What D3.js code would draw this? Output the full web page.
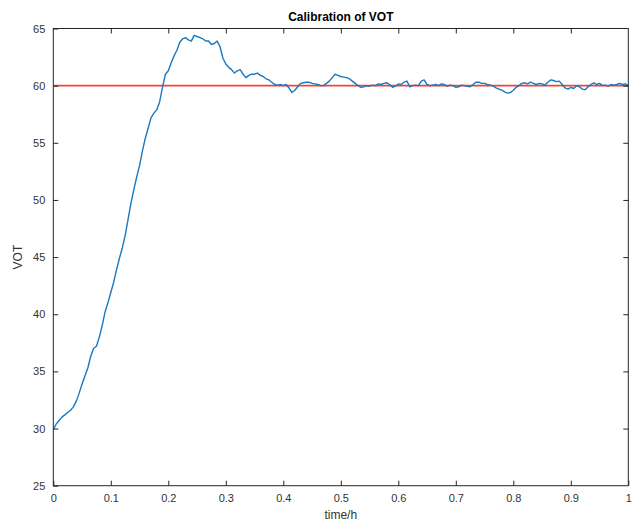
<!DOCTYPE html>
<html>
<head>
<meta charset="utf-8">
<script src="https://cdn.jsdelivr.net/npm/d3@7/dist/d3.min.js"></script>
<style>
  html, body { margin: 0; padding: 0; background: #fff; }
  svg { display: block; }
  text { font-family: "Liberation Sans", Arial, Helvetica, sans-serif; }
</style>
</head>
<body>
<svg id="chart" width="634" height="525"></svg>
<script>
// Sample times (hours)
const time = [
  0.000, 0.005, 0.010, 0.015, 0.020, 0.025, 0.030, 0.035, 0.040, 0.045,
  0.050, 0.055, 0.060, 0.065, 0.070, 0.075, 0.080, 0.085, 0.090, 0.095,
  0.100, 0.105, 0.110, 0.115, 0.120, 0.125, 0.130, 0.135, 0.140, 0.145,
  0.150, 0.155, 0.160, 0.165, 0.170, 0.175, 0.180, 0.185, 0.190, 0.195,
  0.200, 0.205, 0.210, 0.215, 0.220, 0.225, 0.230, 0.235, 0.240, 0.245,
  0.250, 0.255, 0.260, 0.265, 0.270, 0.275, 0.280, 0.285, 0.290, 0.295,
  0.300, 0.305, 0.310, 0.315, 0.320, 0.325, 0.330, 0.335, 0.340, 0.345,
  0.350, 0.355, 0.360, 0.365, 0.370, 0.375, 0.380, 0.385, 0.390, 0.395,
  0.400, 0.405, 0.410, 0.415, 0.420, 0.425, 0.430, 0.435, 0.440, 0.445,
  0.450, 0.455, 0.460, 0.465, 0.470, 0.475, 0.480, 0.485, 0.490, 0.495,
  0.500, 0.505, 0.510, 0.515, 0.520, 0.525, 0.530, 0.535, 0.540, 0.545,
  0.550, 0.555, 0.560, 0.565, 0.570, 0.575, 0.580, 0.585, 0.590, 0.595,
  0.600, 0.605, 0.610, 0.615, 0.620, 0.625, 0.630, 0.635, 0.640, 0.645,
  0.650, 0.655, 0.660, 0.665, 0.670, 0.675, 0.680, 0.685, 0.690, 0.695,
  0.700, 0.705, 0.710, 0.715, 0.720, 0.725, 0.730, 0.735, 0.740, 0.745,
  0.750, 0.755, 0.760, 0.765, 0.770, 0.775, 0.780, 0.785, 0.790, 0.795,
  0.800, 0.805, 0.810, 0.815, 0.820, 0.825, 0.830, 0.835, 0.840, 0.845,
  0.850, 0.855, 0.860, 0.865, 0.870, 0.875, 0.880, 0.885, 0.890, 0.895,
  0.900, 0.905, 0.910, 0.915, 0.920, 0.925, 0.930, 0.935, 0.940, 0.945,
  0.950, 0.955, 0.960, 0.965, 0.970, 0.975, 0.980, 0.985, 0.990, 0.995,
  1.000
];

// Measured VOT at each sample time
const vot = [
  29.9, 30.4, 30.7, 31.0, 31.2, 31.4, 31.6, 31.9, 32.4, 33.1,
  33.9, 34.6, 35.3, 36.3, 37.0, 37.2, 38.0, 39.0, 40.2, 41.0,
  41.9, 42.8, 43.9, 44.9, 45.8, 46.9, 48.3, 49.7, 50.9, 52.0,
  53.0, 54.3, 55.4, 56.3, 57.2, 57.6, 57.9, 58.6, 59.9, 61.0,
  61.3, 62.0, 62.6, 63.1, 63.8, 64.1, 64.2, 64.0, 63.9, 64.4,
  64.3, 64.2, 64.1, 63.9, 63.9, 63.6, 63.7, 63.9, 63.4, 62.4,
  61.9, 61.6, 61.4, 61.1, 61.3, 61.4, 61.0, 60.7, 60.9, 61.0,
  61.0, 61.1, 60.9, 60.8, 60.6, 60.5, 60.3, 60.1, 60.05, 60.1,
  60.0, 60.1, 59.8, 59.4, 59.6, 59.9, 60.2, 60.25, 60.3, 60.3,
  60.2, 60.15, 60.1, 60.0, 60.0, 60.2, 60.4, 60.7, 61.0, 60.9,
  60.8, 60.75, 60.7, 60.6, 60.4, 60.2, 60.0, 59.85, 59.9, 60.0,
  59.95, 60.05, 60.0, 60.15, 60.1, 60.2, 60.25, 60.1, 59.85, 59.95,
  60.15, 60.1, 60.3, 60.4, 59.9, 60.0, 60.05, 60.0, 60.4, 60.5,
  60.1, 60.0, 60.05, 60.1, 60.0, 60.15, 60.1, 59.95, 60.05, 60.0,
  59.85, 59.9, 60.05, 60.0, 59.95, 59.9, 60.1, 60.3, 60.3, 60.2,
  60.2, 60.1, 60.05, 59.95, 59.8, 59.7, 59.6, 59.45, 59.35, 59.4,
  59.6, 59.85, 60.0, 60.2, 60.25, 60.15, 60.3, 60.2, 60.1, 60.2,
  60.15, 60.05, 60.3, 60.5, 60.45, 60.35, 60.4, 60.1, 59.8, 59.7,
  59.85, 59.75, 60.0, 59.9, 59.7, 59.65, 59.9, 60.1, 60.25, 60.1,
  60.2, 60.0, 60.05, 59.95, 60.1, 60.05, 60.1, 60.2, 60.1, 60.15,
  60.0
];

// Calibration target
const target = 60;

const xTicks = [0, 0.1, 0.2, 0.3, 0.4, 0.5, 0.6, 0.7, 0.8, 0.9, 1];
const yTicks = [25, 30, 35, 40, 45, 50, 55, 60, 65];
const xDomain = [0, 1];
const yDomain = [25, 65];

const titleText = "Calibration of VOT";
const xLabelText = "time/h";
const yLabelText = "VOT";

const svg = d3.select("#chart");
const margin = { left: 53.3, right: 634 - 628.3, top: 28.5, bottom: 525 - 485.7 };
const W = 634, H = 525;
const innerW = W - margin.left - margin.right;
const innerH = H - margin.top - margin.bottom;

const x = d3.scaleLinear().domain(xDomain).range([0, innerW]);
const y = d3.scaleLinear().domain(yDomain).range([innerH, 0]);

const axisColor = "#262626";
const g = svg.append("g").attr("transform", `translate(${margin.left},${margin.top})`);

// Plot lines, clipped to the axes box
svg.append("defs").append("clipPath").attr("id", "plotclip")
  .append("rect").attr("x", 0).attr("y", 0).attr("width", innerW).attr("height", innerH);

const plot = g.append("g").attr("clip-path", "url(#plotclip)");

const pts = time.map((t, i) => [t, vot[i]]);
const line = d3.line().x(d => x(d[0])).y(d => y(d[1]));

plot.append("line")
  .attr("x1", x(xDomain[0])).attr("x2", x(xDomain[1]))
  .attr("y1", y(target)).attr("y2", y(target))
  .attr("stroke", "#f0433f").attr("stroke-width", 1.6);

plot.append("path")
  .datum(pts)
  .attr("d", line)
  .attr("fill", "none")
  .attr("stroke", "#1a78bf")
  .attr("stroke-width", 1.4)
  .attr("stroke-linejoin", "round");

// Axes with inward ticks on all four sides
const tickLen = 5;
const styleAxis = sel => {
  sel.select(".domain").remove();
  sel.selectAll(".tick line").attr("stroke", axisColor).attr("stroke-width", 1);
  sel.selectAll(".tick text")
    .attr("fill", "#333")
    .style("font-size", "11px")
    .style("font-family", '"Liberation Sans", Arial, sans-serif');
};

g.append("g").attr("transform", `translate(0,${innerH})`)
  .call(d3.axisBottom(x).tickValues(xTicks).tickFormat(d3.format("")).tickSizeInner(-tickLen).tickSizeOuter(0).tickPadding(9))
  .call(styleAxis);

g.append("g")
  .call(d3.axisTop(x).tickValues(xTicks.slice(1, -1)).tickFormat("").tickSizeInner(-tickLen).tickSizeOuter(0))
  .call(styleAxis);

g.append("g")
  .call(d3.axisLeft(y).tickValues(yTicks).tickFormat(d3.format("")).tickSizeInner(-tickLen).tickSizeOuter(0).tickPadding(8))
  .call(styleAxis);

g.append("g").attr("transform", `translate(${innerW},0)`)
  .call(d3.axisRight(y).tickValues(yTicks.slice(1, -1)).tickFormat("").tickSizeInner(-tickLen).tickSizeOuter(0))
  .call(styleAxis);

// Box
g.append("rect")
  .attr("x", 0).attr("y", 0).attr("width", innerW).attr("height", innerH)
  .attr("fill", "none").attr("stroke", axisColor).attr("stroke-width", 1);

// Title and labels
svg.append("text")
  .attr("x", margin.left + innerW / 2).attr("y", 21)
  .attr("text-anchor", "middle")
  .style("font-size", "12px").style("font-weight", "bold")
  .attr("fill", "#000")
  .text(titleText);

svg.append("text")
  .attr("x", margin.left + innerW / 2).attr("y", 519)
  .attr("text-anchor", "middle")
  .style("font-size", "12px")
  .attr("fill", "#333")
  .text(xLabelText);

svg.append("text")
  .attr("transform", `translate(22,${margin.top + innerH / 2}) rotate(-90)`)
  .attr("text-anchor", "middle")
  .style("font-size", "12px")
  .attr("fill", "#333")
  .text(yLabelText);
</script>
</body>
</html>
